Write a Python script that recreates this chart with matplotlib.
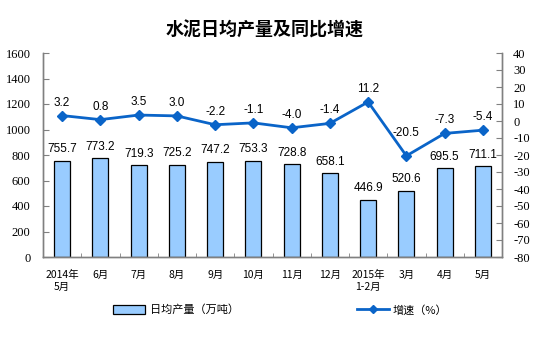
import matplotlib
matplotlib.use("Agg")
import matplotlib.pyplot as plt
from matplotlib.patches import Patch
from matplotlib.lines import Line2D
import numpy as np

categories = ["2014年\n5月", "6月", "7月", "8月", "9月", "10月", "11月", "12月",
              "2015年\n1-2月", "3月", "4月", "5月"]
output = [755.7, 773.2, 719.3, 725.2, 747.2, 753.3, 728.8, 658.1, 446.9, 520.6, 695.5, 711.1]
growth = [3.2, 0.8, 3.5, 3.0, -2.2, -1.1, -4.0, -1.4, 11.2, -20.5, -7.3, -5.4]
left_ticks = [0, 200, 400, 600, 800, 1000, 1200, 1400, 1600]
right_ticks = list(range(-80, 41, 10))

cjk = ["Noto Sans CJK SC", "DejaVu Sans"]
serif = "Liberation Serif"
sans = "Liberation Sans"
bar_color = "#99CCFF"
line_color = "#0A64C8"
spine_color = "#808080"

fig = plt.figure(figsize=(5.54, 3.45), dpi=100)
ax = fig.add_axes([43 / 554, 1 - 257 / 345, (502 - 43) / 554, (257 - 53) / 345])
ax2 = ax.twinx()

x = np.arange(len(categories))
ax.bar(x, output, width=0.42, color=bar_color, edgecolor="black", linewidth=0.9, zorder=2)
for xi, v in zip(x, output):
    ax.annotate(f"{v:.1f}", (xi, v), xytext=(0, 4), textcoords="offset points",
                ha="center", va="bottom", fontsize=8.5, family=sans, color="black")

ax.set_xlim(-0.5, len(categories) - 0.5)
ax.set_ylim(0, 1600)
ax.set_yticks(left_ticks)
ax.set_yticklabels([str(t) for t in left_ticks], family=serif, fontsize=9)
ax.set_xticks(x)
ax.set_xticklabels(categories, family=cjk, fontsize=7.5, linespacing=1.3)
ax.set_xticks(np.arange(-0.5, len(categories), 1.0), minor=True)
ax.tick_params(axis="x", which="major", length=0, pad=9)
ax.tick_params(axis="x", which="minor", direction="in", length=3, color=spine_color)
ax.tick_params(axis="y", direction="in", length=4, color=spine_color, pad=9)

ax2.plot(x, growth, color=line_color, linewidth=2, marker="D", markersize=5,
         markerfacecolor=line_color, markeredgecolor=line_color, zorder=3)
lowest = int(np.argmin(growth))
for i, (xi, v) in enumerate(zip(x, growth)):
    # the label of the trough sits higher so the rising line does not cross it
    dy = 12 if i == lowest else 5
    ax2.annotate(f"{v:.1f}", (xi, v), xytext=(0, dy), textcoords="offset points",
                 ha="center", va="bottom", fontsize=8.5, family=sans, color="black")
ax2.set_ylim(-80, 40)
ax2.set_yticks(right_ticks)
ax2.set_yticklabels([str(t) for t in right_ticks], family=serif, fontsize=9)
ax2.tick_params(axis="y", direction="in", length=4, color=spine_color, pad=8)

for a in (ax, ax2):
    a.spines["top"].set_visible(False)
    for s in ("left", "right", "bottom"):
        a.spines[s].set_color(spine_color)
        a.spines[s].set_linewidth(1)

fig.text(265 / 554, 1 - 30 / 345, "水泥日均产量及同比增速", ha="center", va="center",
         fontsize=13, fontweight="bold", family=cjk)

bar_handle = Patch(facecolor=bar_color, edgecolor="black", linewidth=0.9)
line_handle = Line2D([], [], color=line_color, linewidth=2, marker="D", markersize=4)
fig.legend(handles=[bar_handle], labels=["日均产量（万吨）"], loc="center left",
           bbox_to_anchor=(113 / 554, 1 - 310 / 345), frameon=False, borderpad=0,
           borderaxespad=0, handlelength=2.9, handleheight=0.8, handletextpad=0.4,
           prop={"family": cjk, "size": 8})
fig.legend(handles=[line_handle], labels=["增速（%）"], loc="center left",
           bbox_to_anchor=(357 / 554, 1 - 310 / 345), frameon=False, borderpad=0,
           borderaxespad=0, handlelength=2.9, handletextpad=0.3,
           prop={"family": cjk, "size": 8})

fig.savefig("out.png", dpi=100)
